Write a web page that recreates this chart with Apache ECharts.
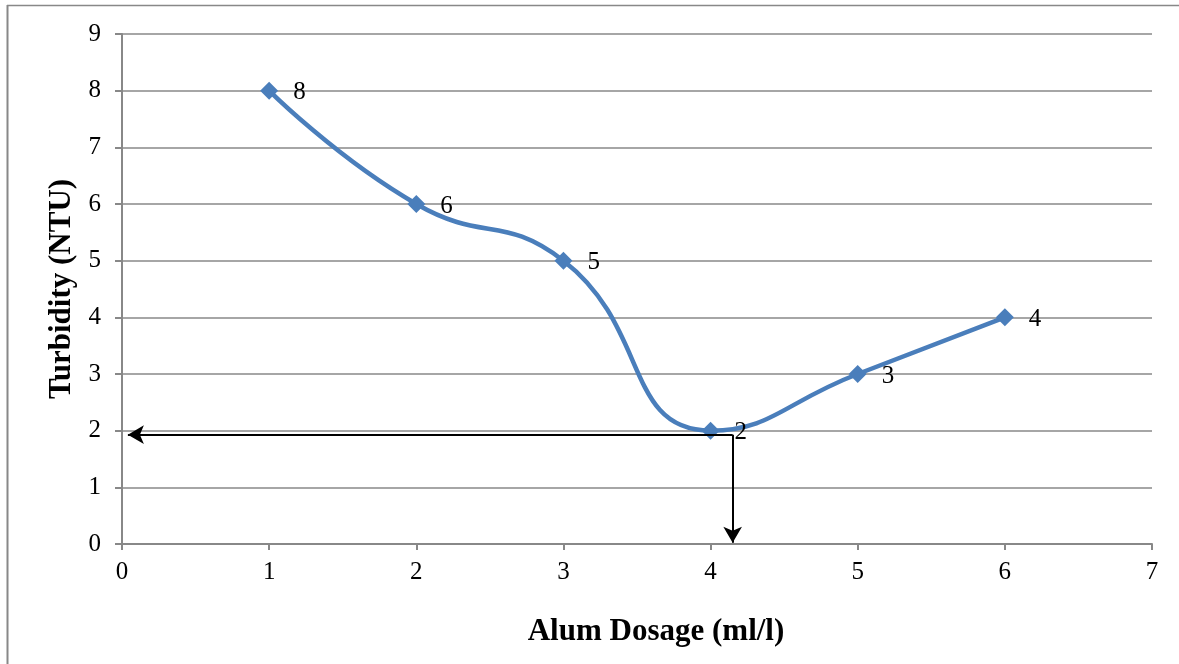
<!DOCTYPE html>
<html>
<head>
<meta charset="utf-8">
<script src="https://cdn.jsdelivr.net/npm/echarts@6/dist/echarts.min.js"></script>
<style>html,body{margin:0;padding:0;background:#fff}#c{width:1179px;height:664px}</style>
</head>
<body>
<div id="c"></div>
<script>
const dosage = [1, 2, 3, 4, 5, 6];
const turbidity = [8, 6, 5, 2, 3, 4];
const xAxisTitle = 'Alum Dosage (ml/l)';
const yAxisTitle = 'Turbidity (NTU)';
const optimumDose = 4.15;
const optimumTurbidity = 1.93;
const arrowEndX = 0.04;
const arrowEndY = 0.02;

const chart = echarts.init(document.getElementById('c'), null, {renderer: 'canvas'});
const font = '"Liberation Serif", "Times New Roman", serif';
chart.setOption({
  animation: false,
  backgroundColor: '#fff',
  textStyle: {fontFamily: font},
  grid: {left: 122, right: 27, top: 34, bottom: 120, containLabel: false},
  xAxis: {
    type: 'value', min: 0, max: 7, interval: 1,
    name: xAxisTitle, nameLocation: 'middle', nameGap: 72,
    nameTextStyle: {fontFamily: font, fontSize: 31, fontWeight: 'bold', color: '#000', padding: [0, 0, 0, 38]},
    axisLine: {lineStyle: {color: '#888', width: 2}},
    axisTick: {show: true, length: 6, lineStyle: {color: '#888', width: 2}},
    axisLabel: {fontFamily: font, fontSize: 25, color: '#000', margin: 16},
    splitLine: {show: false}
  },
  yAxis: {
    type: 'value', min: 0, max: 9, interval: 1,
    name: yAxisTitle, nameLocation: 'middle', nameGap: 43,
    nameTextStyle: {fontFamily: font, fontSize: 31, fontWeight: 'bold', color: '#000'},
    axisLine: {show: true, lineStyle: {color: '#888', width: 2}},
    axisTick: {show: true, length: 7, lineStyle: {color: '#888', width: 2}},
    axisLabel: {fontFamily: font, fontSize: 25, color: '#000', margin: 21},
    splitLine: {lineStyle: {color: '#888', width: 1.5}}
  },
  series: [{
    type: 'line',
    data: dosage.map((d, i) => [d, turbidity[i]]),
    smooth: 0.5,
    symbol: 'diamond',
    symbolSize: 18,
    lineStyle: {color: '#4a7ebb', width: 4.5},
    itemStyle: {color: '#4a7ebb'},
    label: {show: true, position: 'right', distance: 15, fontFamily: font, fontSize: 25, color: '#000', offset: [0, 2]},
    z: 3
  }, {
    type: 'line',
    data: [],
    markLine: {
      silent: true,
      symbol: ['none', 'arrow'],
      symbolSize: [14, 16],
      label: {show: false},
      lineStyle: {color: '#000', width: 2, type: 'solid'},
      data: [
        [{coord: [optimumDose, optimumTurbidity]}, {coord: [arrowEndX, optimumTurbidity]}],
        [{coord: [optimumDose, optimumTurbidity]}, {coord: [optimumDose, arrowEndY]}]
      ]
    },
    z: 4
  }],
  graphic: [
    {type: 'line', shape: {x1: 7.5, y1: 5, x2: 7.5, y2: 664}, style: {stroke: '#888', lineWidth: 2}},
    {type: 'line', shape: {x1: 7, y1: 5.5, x2: 1179, y2: 5.5}, style: {stroke: '#888', lineWidth: 1.5}}
  ]
});
</script>
</body>
</html>
